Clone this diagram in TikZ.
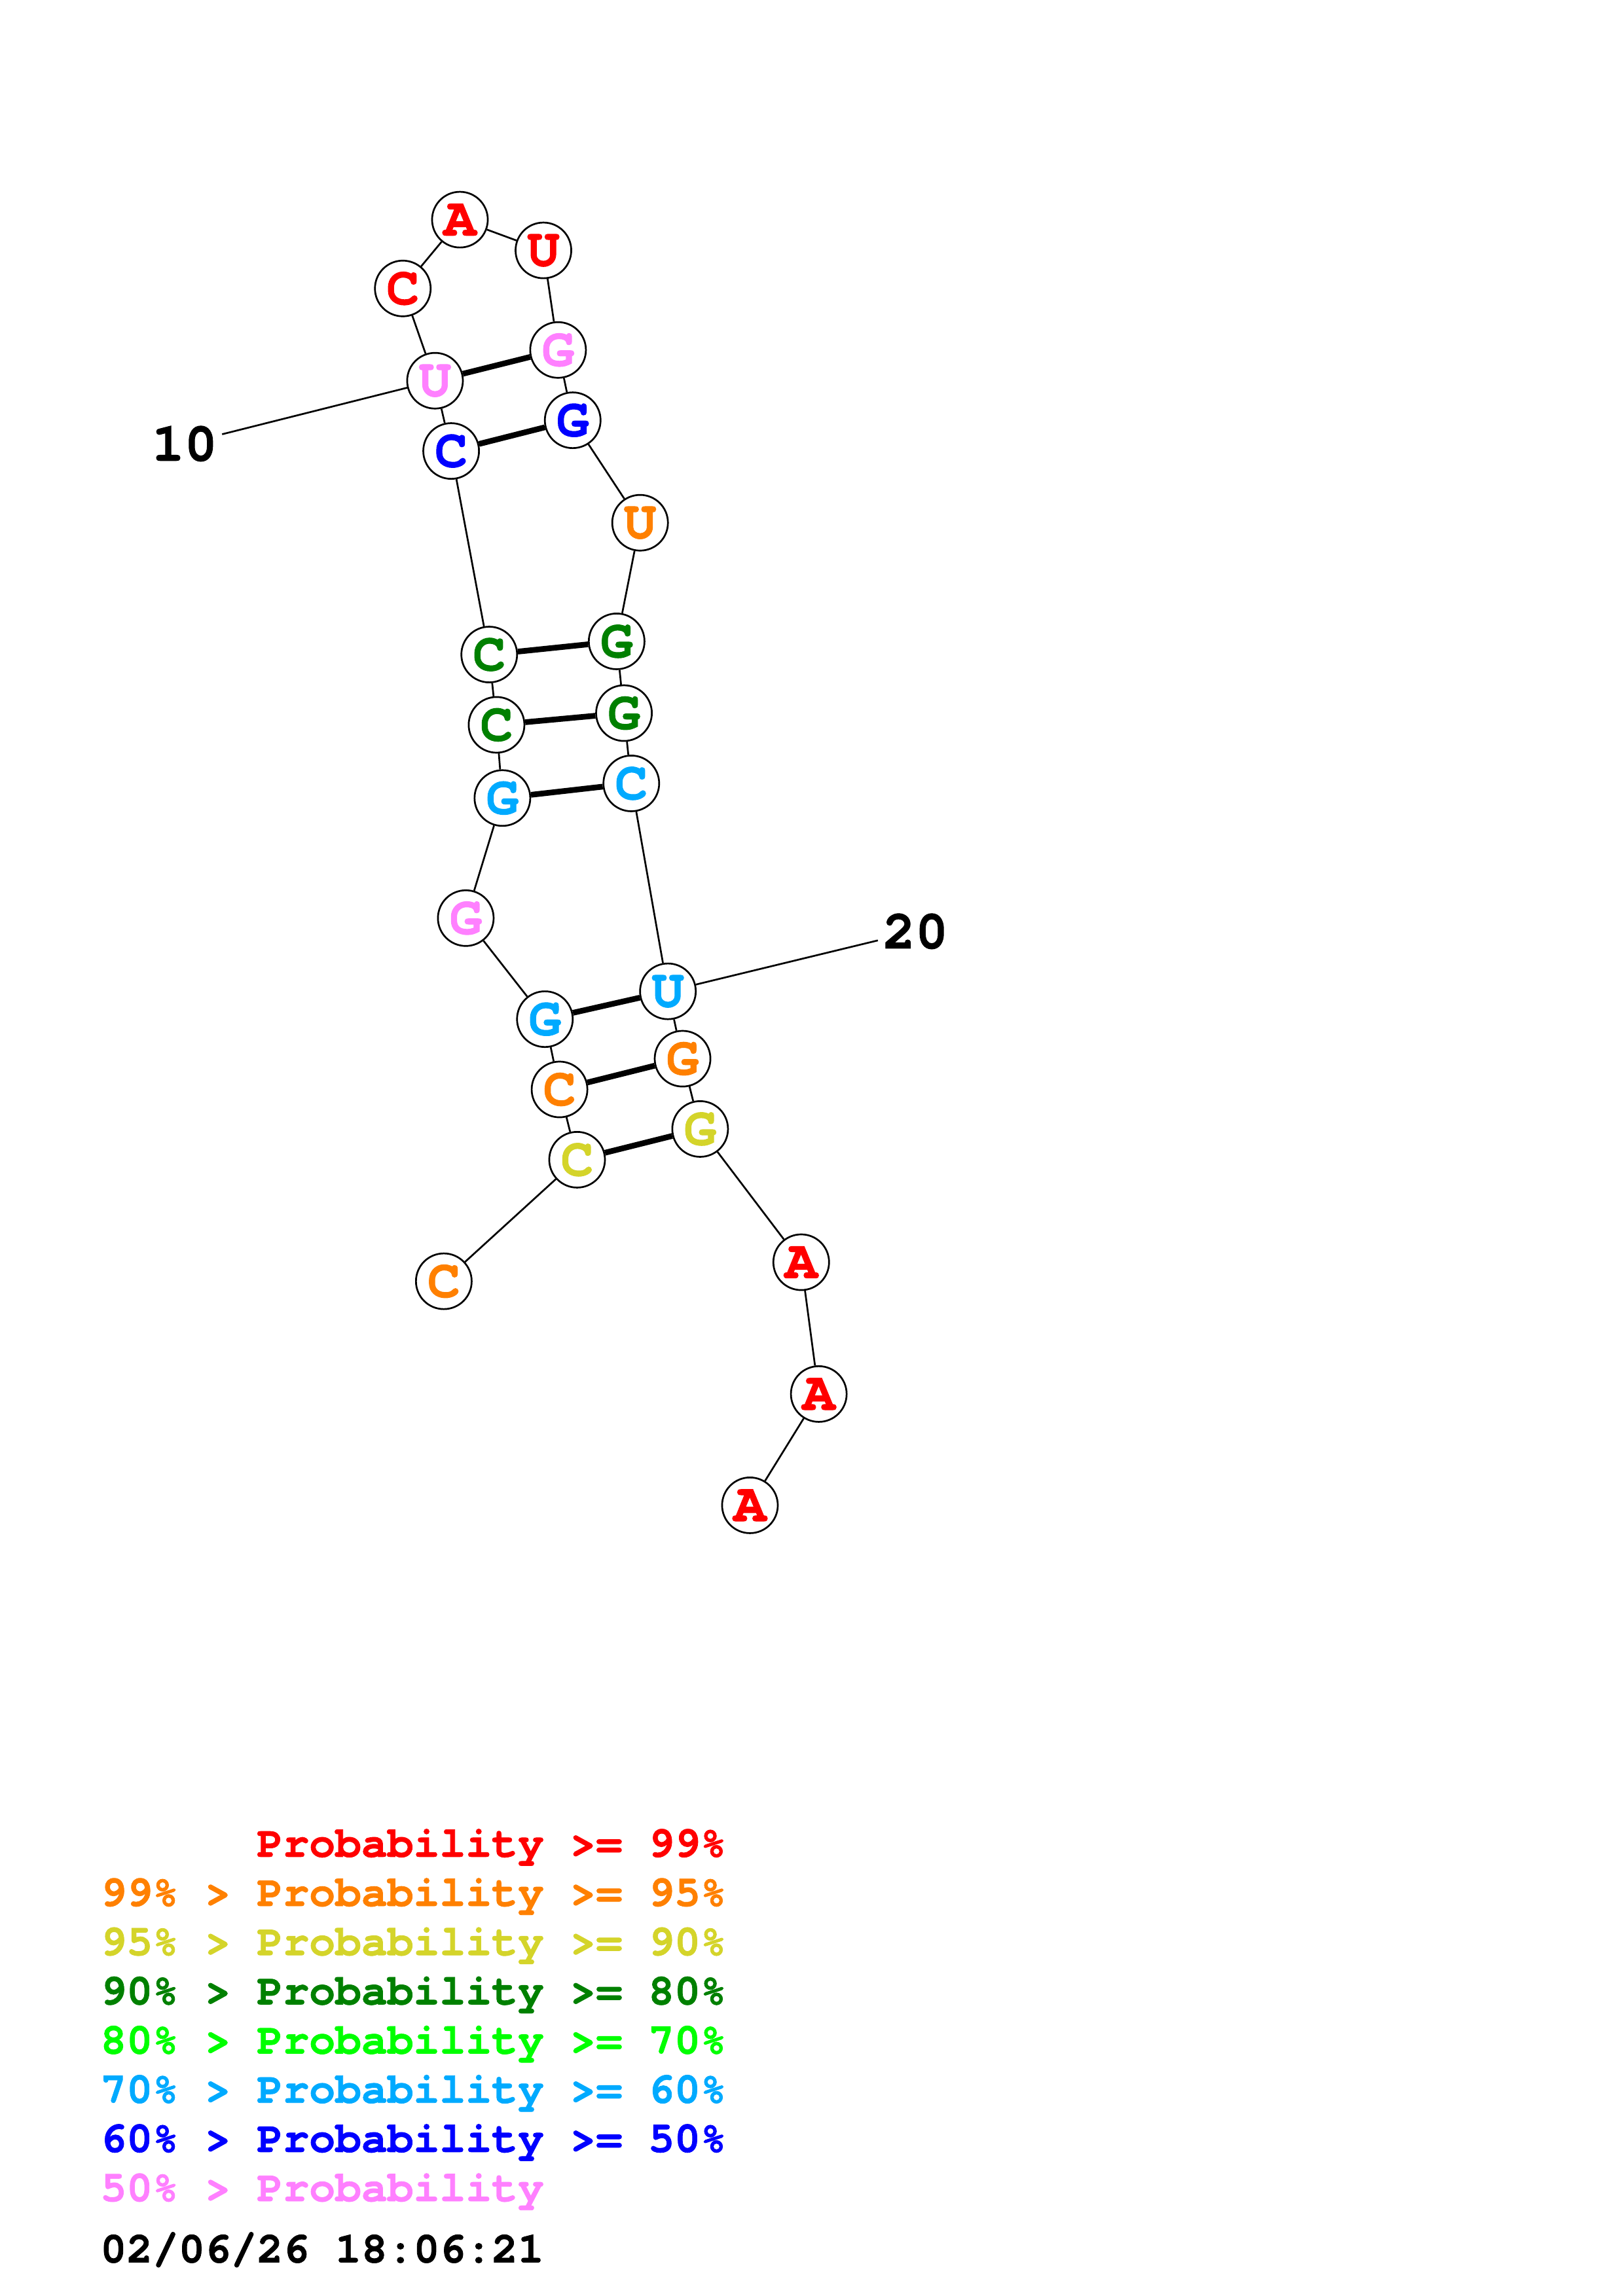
\documentclass[tikz,border=0pt]{standalone}
\usepackage{fontspec}
\setmonofont{TeX Gyre Cursor}[BoldFeatures={FakeBold=1.2}]
\usepackage{tikz}
\definecolor{black}{RGB}{0,0,0}
\definecolor{pa}{RGB}{255,0,0}
\definecolor{pb}{RGB}{255,128,0}
\definecolor{pc}{RGB}{212,212,42}
\definecolor{pd}{RGB}{0,128,0}
\definecolor{pe}{RGB}{0,255,0}
\definecolor{pf}{RGB}{0,170,255}
\definecolor{pg}{RGB}{0,0,255}
\definecolor{ph}{RGB}{255,128,255}
\tikzstyle{nt} = [circle, draw=black, fill=white, line width=0.65pt, minimum size=20.5pt, inner sep=0pt, font=\fontsize{20}{20}\selectfont\ttfamily\bfseries]
\tikzstyle{numlbl} = [inner sep=1.5pt, font=\fontsize{20}{20}\selectfont\ttfamily\bfseries]
\tikzstyle{leg} = [anchor=base west, inner sep=0pt, font=\fontsize{16}{16}\selectfont\ttfamily\bfseries]
\tikzset{
  bp/.style={line width=2.1pt}
}

\begin{document}
\begin{tikzpicture}[x=0.18944mm, y=-0.18944mm, line width=0.65pt]
\useasboundingbox (0,0) rectangle (1108,1568);
% bases
\foreach [count = \i] \b/\c/\x/\y in {C/pb/303/875, C/pc/394/792, C/pb/382/744, G/pf/372/696, G/ph/318/627,
  G/pf/343/545, C/pd/339/495, C/pd/334/447, C/pg/308/308, U/ph/297/260,
  C/pa/275/197, A/pa/314/150, U/pa/371/171, G/ph/381/239, G/pg/391/287,
  U/pb/437/357, G/pd/421/438, G/pd/426/487, C/pf/431/535, U/pf/456/677,
  G/pb/466/723, G/pc/478/771, A/pa/547/862, A/pa/559/952, A/pa/512/1028}{
\node[nt, text=\c] (n\i) at (\x,\y) {\b};
}
% backbone
\foreach [count = \j from 2] \i in {1,...,24}{
\draw (n\i) -- (n\j);
}
% pairs
\foreach \a/\b in {2/22, 3/21, 4/20, 6/19, 7/18, 8/17, 9/15, 10/14}{
\draw[bp] (n\a) -- (n\b);
}
\node[numlbl] (lbl10) at (126,303) {10};
\node[numlbl] (lbl20) at (625,636) {20};
\draw (n10) -- (lbl10);
\draw (n20) -- (lbl20);
% legend
\foreach [count = \k] \t/\c in {\hphantom{99\% > }Probability >= 99\%/pa, 99\% > Probability >= 95\%/pb,
  95\% > Probability >= 90\%/pc, 90\% > Probability >= 80\%/pd, 80\% > Probability >= 70\%/pe,
  70\% > Probability >= 60\%/pf, 60\% > Probability >= 50\%/pg, 50\% > Probability/ph}{
\node[leg, text=\c] (leg\k) at (68,{1268+33.6*(\k-1)}) {\t};
}
\node[leg] (date) at (68,1545) {02/06/26 18:06:21};
\end{tikzpicture}
\end{document}
